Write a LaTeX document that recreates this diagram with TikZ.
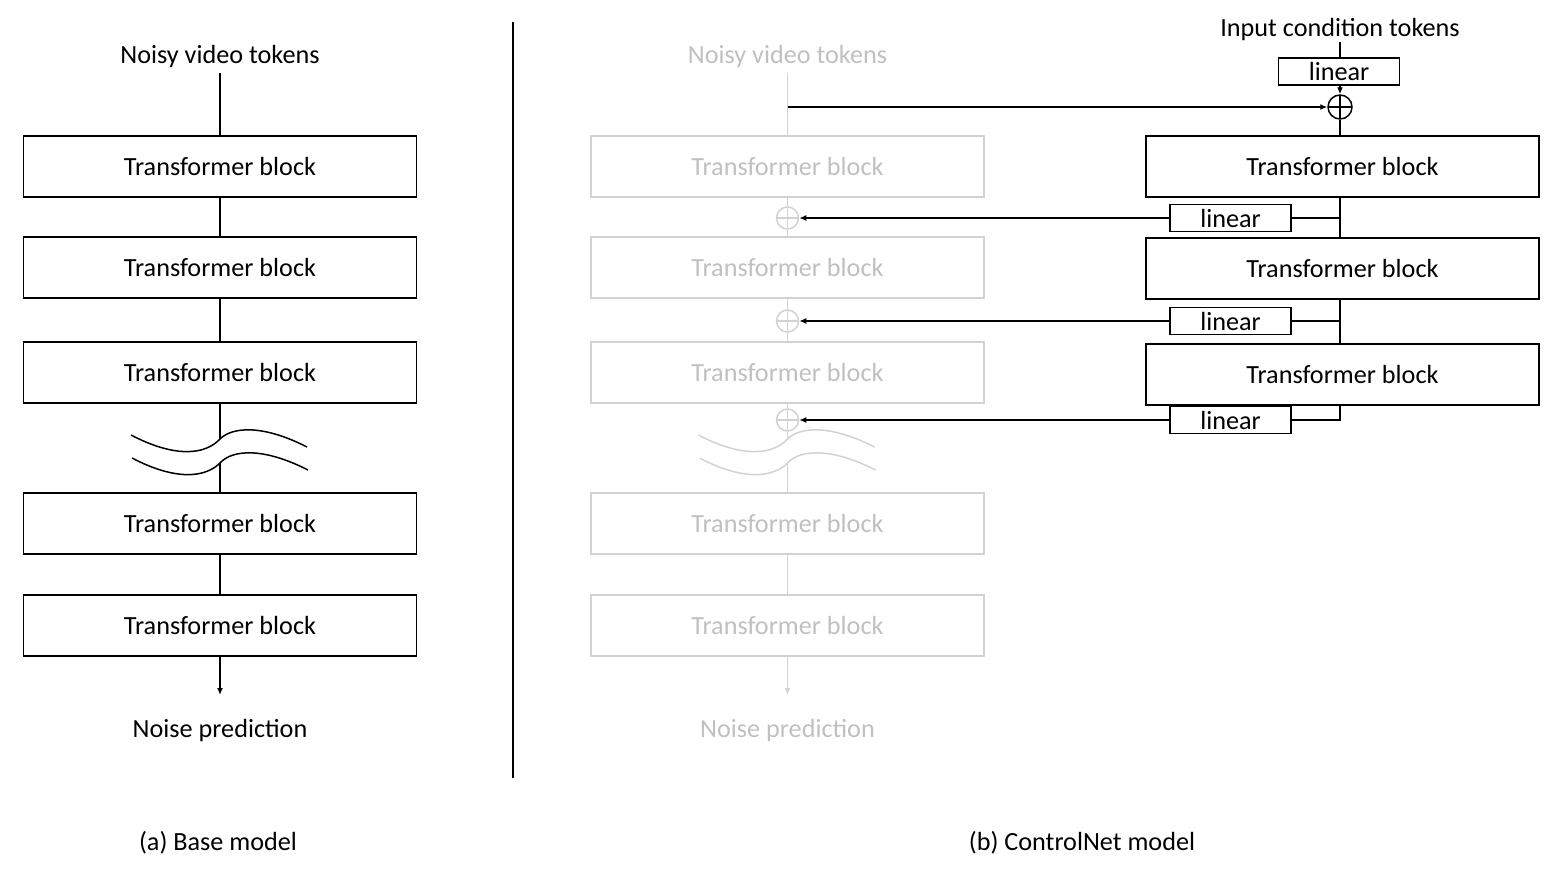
\documentclass[tikz,border=0pt]{standalone}
\usepackage{fontspec}
\setmainfont{Carlito}
\usetikzlibrary{arrows.meta,calc}
\definecolor{lg}{RGB}{210,210,210}
\definecolor{lgt}{RGB}{192,192,192}
\begin{document}
\begin{tikzpicture}[x=0.5pt,y=-0.5pt,
  every node/.style={font=\fontsize{13.1}{15}\selectfont},
  tblock/.style={draw, line width=0.75pt, minimum width=196.5pt, minimum height=30.5pt, inner sep=0pt},
  gblock/.style={tblock, draw=lg, text=lgt},
  linbox/.style={draw, line width=0.75pt, minimum width=60.5pt, minimum height=13.5pt, inner sep=0pt},
  plusc/.style={circle, draw, line width=0.75pt, minimum size=12pt, inner sep=0pt,
    path picture={\draw[line width=0.75pt] (path picture bounding box.north) -- (path picture bounding box.south) (path picture bounding box.west) -- (path picture bounding box.east);}},
  gplusc/.style={circle, draw=lg, line width=0.75pt, minimum size=11pt, inner sep=0pt,
    path picture={\draw[line width=0.75pt, draw=lg] (path picture bounding box.north) -- (path picture bounding box.south) (path picture bounding box.west) -- (path picture bounding box.east);}},
  lbl/.style={inner sep=2pt},
  ln/.style={line width=0.75pt},
  gln/.style={line width=0.75pt, draw=lg},
  arr/.style={ln, -{Latex[length=3.5pt,width=3pt]}},
  garr/.style={gln, -{Latex[length=3.5pt,width=3pt]}}
]
\useasboundingbox (0,0) rectangle (1562,879);

% ---------- (a) Base model ----------
\node[lbl] (ta) at (220,57) {Noisy video tokens};
\node[tblock] (a1) at (220,166.5) {Transformer block};
\node[tblock] (a2) at (220,267.5) {Transformer block};
\node[tblock] (a3) at (220,372.5) {Transformer block};
\node[tblock] (a4) at (220,523.5) {Transformer block};
\node[tblock] (a5) at (220,625.5) {Transformer block};
\coordinate (ab1) at (220,439);
\coordinate (ab2) at (220,463);
\coordinate (aout) at (220,695);
\node[lbl] (anp) at (220,730) {Noise prediction};
\draw[ln] (ta) -- (a1);
\draw[ln] (a1) -- (a2);
\draw[ln] (a2) -- (a3);
\draw[ln] (a3.south) -- (ab1);
\draw[ln] (ab2) -- (a4.north);
\draw[ln] (a4) -- (a5);
\draw[arr] (a5.south) -- (aout);
\draw[ln] (131,435) .. controls (175,458) and (205,455) .. (220,439) .. controls (232,427) and (262,424) .. (307,447);
\draw[ln] (132,458) .. controls (176,481) and (206,478) .. (221,462) .. controls (233,450) and (263,447) .. (308,470);
\node[lbl] (capa) at (218,843) {(a) Base model};

% ---------- divider ----------
\coordinate (d1) at (513,22);
\coordinate (d2) at (513,778);
\draw[ln] (d1) -- (d2);

% ---------- (b) ControlNet: frozen base (gray) ----------
\node[lbl, text=lgt] (tb) at (787.5,57) {Noisy video tokens};
\node[gblock] (g1) at (787.5,166.5) {Transformer block};
\node[gblock] (g2) at (787.5,267.5) {Transformer block};
\node[gblock] (g3) at (787.5,372.5) {Transformer block};
\node[gblock] (g4) at (787.5,523.5) {Transformer block};
\node[gblock] (g5) at (787.5,625.5) {Transformer block};
\node[gplusc] (gp1) at (787.5,218) {};
\node[gplusc] (gp2) at (787.5,321) {};
\node[gplusc] (gp3) at (787.5,420) {};
\coordinate (gb1) at (787.5,439);
\coordinate (gb2) at (787.5,463);
\coordinate (gout) at (787.5,695);
\coordinate (tap) at (787.5,107);
\node[lbl, text=lgt] (gnp) at (787.5,730) {Noise prediction};
\draw[gln] (tb) -- (g1);
\draw[gln] (g1) -- (gp1);
\draw[gln] (gp1) -- (g2);
\draw[gln] (g2) -- (gp2);
\draw[gln] (gp2) -- (g3);
\draw[gln] (g3) -- (gp3);
\draw[gln] (gp3.south) -- (gb1);
\draw[gln] (gb2) -- (g4.north);
\draw[gln] (g4) -- (g5);
\draw[garr] (g5.south) -- (gout);
\draw[gln] (698.5,435) .. controls (742.5,458) and (772.5,455) .. (787.5,439) .. controls (799.5,427) and (829.5,424) .. (874.5,447);
\draw[gln] (699.5,458) .. controls (743.5,481) and (773.5,478) .. (788.5,462) .. controls (800.5,450) and (830.5,447) .. (875.5,470);

% ---------- (b) ControlNet: trainable copy ----------
\node[inner sep=0pt] (tc) at (1340,30) {Input condition tokens};
\node[linbox] (l0) at (1339,71.5) {linear};
\node[plusc] (c0) at (1340,107) {};
\node[tblock] (r1) at (1342.5,166.5) {Transformer block};
\node[tblock] (r2) at (1342.5,268.5) {Transformer block};
\node[tblock] (r3) at (1342.5,374.5) {Transformer block};
\node[linbox] (l1) at (1230.5,218) {linear};
\node[linbox] (l2) at (1230.5,321) {linear};
\node[linbox] (l3) at (1230.5,420) {linear};
\draw[ln] (tc.south -| c0) -- (l0.north -| c0);
\draw[arr] (l0.south -| c0) -- (c0.north);
\draw[arr] (tap) -- (c0.west);
\draw[ln] (c0.south) -- (r1.north -| c0);
\draw[ln] (r1.south -| c0) -- (r2.north -| c0);
\draw[ln] (l1.east) -- (l1.east -| c0);
\draw[arr] (l1.west) -- (gp1.east);
\draw[ln] (r2.south -| c0) -- (r3.north -| c0);
\draw[ln] (l2.east) -- (l2.east -| c0);
\draw[arr] (l2.west) -- (gp2.east);
\draw[ln] (r3.south -| c0) |- (l3.east);
\draw[arr] (l3.west) -- (gp3.east);
\node[lbl] (capb) at (1082,843) {(b) ControlNet model};
\end{tikzpicture}
\end{document}
